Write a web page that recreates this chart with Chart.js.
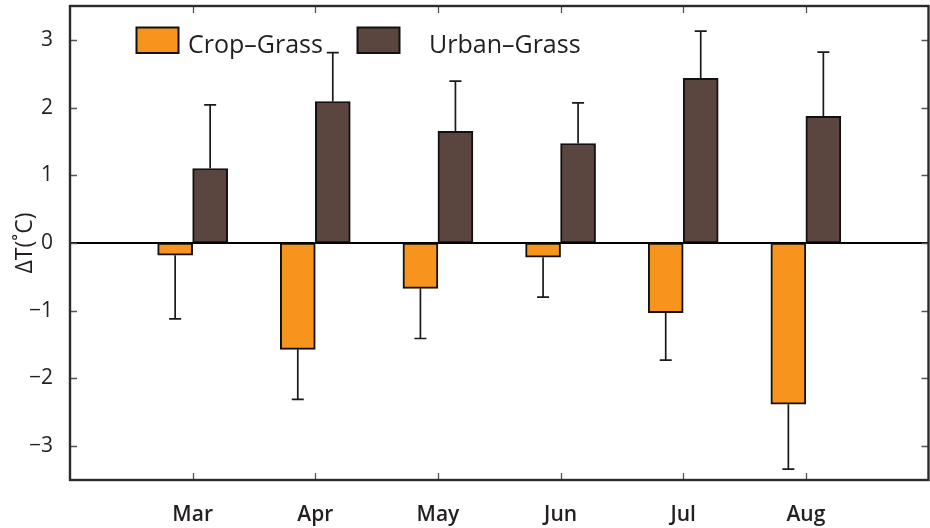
<!DOCTYPE html>
<html>
<head>
<meta charset="utf-8">
<title>ΔT by month</title>
<script src="https://cdn.jsdelivr.net/npm/chart.js@4/dist/chart.umd.min.js"></script>
<style>
  html, body { margin: 0; padding: 0; background: #ffffff; }
  canvas { display: block; }
</style>
</head>
<body>
<canvas id="c" width="930" height="528"></canvas>
<script>
// Monthly temperature differences (°C) relative to grassland, with one-sided error bars
const months = ['Mar', 'Apr', 'May', 'Jun', 'Jul', 'Aug'];
const cropGrass = [-0.18, -1.57, -0.67, -0.21, -1.03, -2.38];
const cropGrassErr = [0.94, 0.74, 0.74, 0.59, 0.70, 0.96];
const urbanGrass = [1.10, 2.09, 1.65, 1.47, 2.43, 1.87];
const urbanGrassErr = [0.94, 0.72, 0.74, 0.60, 0.70, 0.95];
const yTicks = [-3, -2, -1, 0, 1, 2, 3];

const FONT = "'Open Sans', 'Noto Sans', sans-serif";
const TEXT = '#231f20';

// Bars sit at month positions 1..6 on a 0..7 axis
const toPoints = vals => vals.map((v, i) => ({ x: i + 1, y: v }));

// One-sided error whiskers pointing away from zero
const errorBars = {
  id: 'errorBars',
  afterDatasetsDraw(chart) {
    const { ctx } = chart;
    const yScale = chart.scales.y;
    ctx.save();
    ctx.strokeStyle = '#1a1a1a';
    ctx.lineWidth = 1.7;
    chart.data.datasets.forEach((ds, di) => {
      const meta = chart.getDatasetMeta(di);
      meta.data.forEach((bar, i) => {
        const v = ds.data[i].y;
        const end = v + Math.sign(v) * ds.errors[i];
        const y0 = yScale.getPixelForValue(v);
        const y1 = yScale.getPixelForValue(end);
        ctx.beginPath();
        ctx.moveTo(bar.x, y0);
        ctx.lineTo(bar.x, y1);
        ctx.moveTo(bar.x - 6, y1);
        ctx.lineTo(bar.x + 6, y1);
        ctx.stroke();
      });
    });
    ctx.restore();
  }
};

// Boxed frame, inward tick marks on all sides, and the zero line
const frame = {
  id: 'frame',
  afterDatasetsDraw(chart) {
    const { ctx, chartArea: a } = chart;
    const xs = chart.scales.x, ys = chart.scales.y;
    ctx.save();
    const z = ys.getPixelForValue(0);
    ctx.strokeStyle = '#000';
    ctx.lineWidth = 2.2;
    ctx.beginPath();
    ctx.moveTo(a.left, z);
    ctx.lineTo(a.right, z);
    ctx.stroke();
    ctx.strokeStyle = '#555';
    ctx.lineWidth = 1.3;
    const len = 7;
    ctx.beginPath();
    ys.ticks.forEach(t => {
      const p = Math.round(ys.getPixelForValue(t.value)) + 0.5;
      ctx.moveTo(a.left, p); ctx.lineTo(a.left + len, p);
      ctx.moveTo(a.right, p); ctx.lineTo(a.right - len, p);
    });
    xs.ticks.forEach(t => {
      const p = Math.round(xs.getPixelForValue(t.value)) + 0.5;
      ctx.moveTo(p, a.top); ctx.lineTo(p, a.top + len);
      ctx.moveTo(p, a.bottom); ctx.lineTo(p, a.bottom - len);
    });
    ctx.stroke();
    ctx.strokeStyle = '#2b2b2b';
    ctx.lineWidth = 2.4;
    ctx.strokeRect(a.left, a.top, a.right - a.left, a.bottom - a.top);
    ctx.restore();
  }
};

// Legend drawn inside the plot, near the top
const insideLegend = {
  id: 'insideLegend',
  afterDraw(chart, args, opts) {
    const { ctx } = chart;
    ctx.save();
    ctx.font = opts.font;
    ctx.textBaseline = 'alphabetic';
    ctx.textAlign = 'left';
    chart.data.datasets.forEach((ds, i) => {
      const it = opts.items[i];
      ctx.fillStyle = ds.backgroundColor;
      ctx.fillRect(it.box, opts.top, opts.boxW, opts.boxH);
      ctx.strokeStyle = '#111';
      ctx.lineWidth = 2;
      ctx.strokeRect(it.box, opts.top, opts.boxW, opts.boxH);
      ctx.fillStyle = TEXT;
      ctx.fillText(ds.label, it.text, opts.top + opts.boxH);
    });
    ctx.restore();
  }
};

new Chart(document.getElementById('c'), {
  type: 'bar',
  data: {
    datasets: [
      {
        label: 'Crop\u2013Grass',
        data: toPoints(cropGrass),
        errors: cropGrassErr,
        backgroundColor: '#f7941d',
        borderColor: '#111',
        borderWidth: 2,
        borderSkipped: false,
        barThickness: 35
      },
      {
        label: 'Urban\u2013Grass',
        data: toPoints(urbanGrass),
        errors: urbanGrassErr,
        backgroundColor: '#5a463f',
        borderColor: '#111',
        borderWidth: 2,
        borderSkipped: false,
        barThickness: 35
      }
    ]
  },
  options: {
    responsive: false,
    animation: false,
    devicePixelRatio: 1,
    layout: { padding: { top: 6, right: 1.5, left: 0, bottom: 0 } },
    plugins: {
      legend: { display: false },
      tooltip: { enabled: false },
      insideLegend: {
        font: `25px ${FONT}`,
        top: 27.5,
        boxW: 42,
        boxH: 25.5,
        items: [{ box: 136.5, text: 188 }, { box: 357.5, text: 429 }]
      }
    },
    scales: {
      x: {
        type: 'linear',
        position: 'bottom',
        offset: false,
        min: 0,
        max: 7,
        grid: { display: false, offset: false },
        border: { display: false },
        afterBuildTicks: s => { s.ticks = months.map((m, i) => ({ value: i + 1 })); },
        afterFit: s => { s.height = 48; s.paddingLeft = 0; s.paddingRight = 0; },
        ticks: {
          autoSkip: false,
          maxRotation: 0,
          padding: 14,
          color: TEXT,
          font: { family: FONT, size: 21, weight: '600' },
          callback: v => months[v - 1]
        }
      },
      y: {
        position: 'left',
        min: -3.5,
        max: 3.5,
        grid: { display: false },
        border: { display: false },
        afterBuildTicks: s => { s.ticks = yTicks.map(v => ({ value: v })); },
        afterFit: s => { s.width = 70; s.paddingTop = 0; s.paddingBottom = 0; },
        ticks: {
          padding: 9,
          color: TEXT,
          font: { family: FONT, size: 21 },
          callback: v => (v < 0 ? '\u2212' + Math.abs(v) : String(v))
        },
        title: {
          display: true,
          text: '\u0394T(\u02DAC)',
          color: TEXT,
          font: { family: FONT, size: 23 },
          padding: { top: 12, bottom: 0 }
        }
      }
    }
  },
  plugins: [frame, errorBars, insideLegend]
});
</script>
</body>
</html>
